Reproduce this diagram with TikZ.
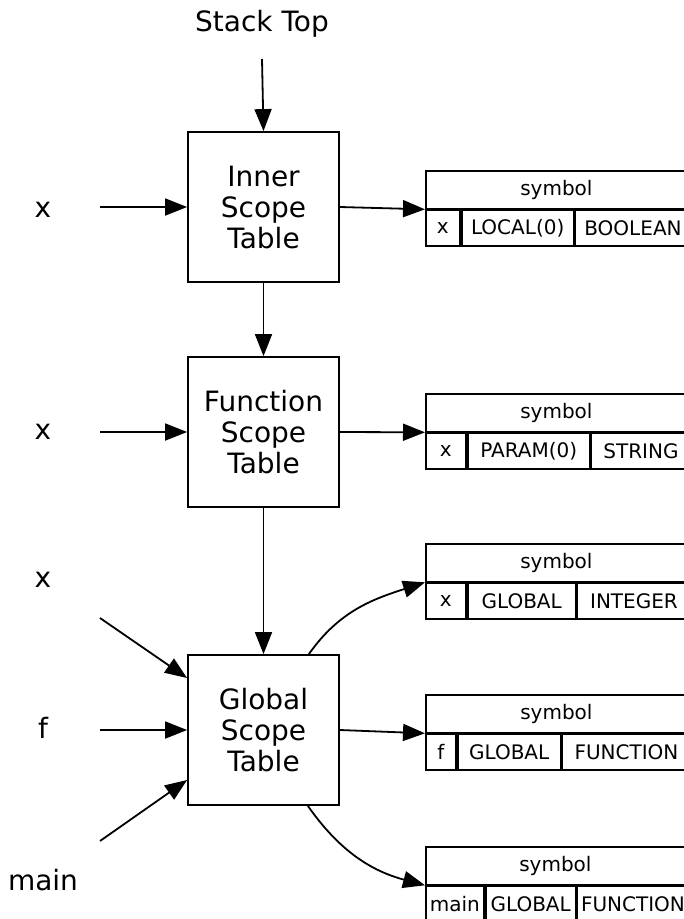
\documentclass[tikz,border=0pt]{standalone}
\usepackage{fontspec}
\setmainfont{DejaVu Sans}
\usetikzlibrary{arrows.meta}

\tikzset{
  scopebox/.style={draw, line width=1.8pt, minimum width=151pt, minimum height=150pt,
    inner sep=0pt, align=center, font=\fontsize{28}{31}\selectfont},
  lbl/.style={font=\fontsize{28}{31}\selectfont, inner sep=0pt},
  tabhead/.style={draw, line width=1.8pt, minimum height=37.5pt, inner sep=0pt,
    font=\fontsize{20}{23}\selectfont},
  tabcell/.style={draw, line width=1.8pt, minimum height=36pt, inner sep=0pt,
    font=\fontsize{20}{23}\selectfont},
  arr/.style={line width=1.8pt, -{Triangle[length=22pt,width=17pt]}}
}

% symbol table: name, x, top, three column widths, three entries
\newcommand{\symtab}[9]{%
  \node[tabhead, minimum width=#4+#5+#6, anchor=north west] (#1h) at (#2,#3) {symbol};
  \node[tabcell, minimum width=#4, anchor=north west] (#1a) at (#1h.south west) {#7};
  \node[tabcell, minimum width=#5, anchor=north west] (#1b) at (#1a.north east) {#8};
  \node[tabcell, minimum width=#6, anchor=north west] (#1c) at (#1b.north east) {#9};
}

\begin{document}
\begin{tikzpicture}[x=1pt, y=-1pt]
  \useasboundingbox (0,0) rectangle (684,919);

  % scope tables
  \node[scopebox] (inner)  at (263.5,207) {Inner\\Scope\\Table};
  \node[scopebox] (func)   at (263.5,432) {Function\\Scope\\Table};
  \node[scopebox] (global) at (263.5,730) {Global\\Scope\\Table};

  % stack top
  \node[lbl] (top) at (262,24) {Stack Top};
  \coordinate (topend) at (262,59);

  % names on the left
  \node[lbl] (xa) at (43,210) {x};
  \node[lbl] (xb) at (43,432) {x};
  \node[lbl] (xc) at (43,580) {x};
  \node[lbl] (fn) at (43,728) {f};
  \node[lbl] (mn) at (43,880) {main};
  \coordinate (xaend) at (100,207);
  \coordinate (xbend) at (100,432);
  \coordinate (xcend) at (100,618);
  \coordinate (fnend) at (100,730);
  \coordinate (mnend) at (100,841);

  % symbols, cut by the right edge
  \symtab{ta}{425}{170}{34}{112}{115}{x}{LOCAL(0)}{BOOLEAN}
  \symtab{tb}{425}{393}{40}{122}{99}{x}{PARAM(0)}{STRING}
  \symtab{tc}{425}{543}{40}{108}{113}{x}{GLOBAL}{INTEGER}
  \symtab{td}{425}{694}{30}{103}{128}{f}{GLOBAL}{FUNCTION}
  \symtab{te}{425}{846}{58}{90}{111}{main}{GLOBAL}{FUNCTION}

  % chain of scopes
  \draw[arr] (topend) -- (inner.north);
  \draw[arr] (inner.south) -- (func.north);
  \draw[arr] (func.south) -- (global.north);

  % lookups
  \draw[arr] (xaend) -- (inner.west);
  \draw[arr] (xbend) -- (func.west);
  \draw[arr] (xcend) -- ([yshift=52pt]global.west);
  \draw[arr] (fnend) -- (global.west);
  \draw[arr] (mnend) -- ([yshift=-50pt]global.west);

  % entries
  \draw[arr] (inner.east) -- (tah.south west);
  \draw[arr] (func.east) -- (tbh.south west);
  \draw[arr] ([xshift=-31pt]global.north east) to[out=55, in=198] (tch.south west);
  \draw[arr] (global.east) -- (tdh.south west);
  \draw[arr] ([xshift=-32pt]global.south east) to[out=-55, in=165] (teh.south west);
\end{tikzpicture}
\end{document}
